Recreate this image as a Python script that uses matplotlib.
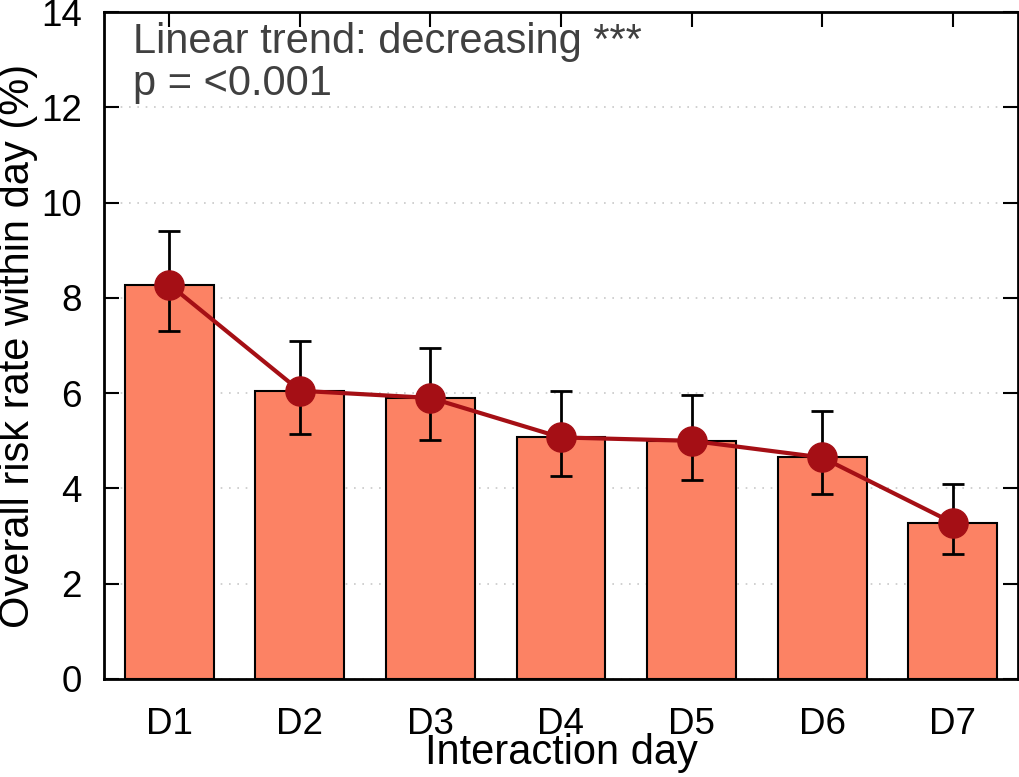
import matplotlib
matplotlib.use("Agg")
import matplotlib.pyplot as plt
import numpy as np

plt.rcParams['font.family'] = ['Liberation Sans', 'DejaVu Sans']

days = ["D1", "D2", "D3", "D4", "D5", "D6", "D7"]
risk_rate = [8.28, 6.05, 5.90, 5.07, 5.00, 4.65, 3.28]
ci_low = [7.30, 5.14, 5.02, 4.26, 4.18, 3.88, 2.62]
ci_high = [9.40, 7.09, 6.95, 6.05, 5.96, 5.62, 4.09]

x = np.arange(len(days))
rate = np.array(risk_rate)
yerr = [rate - np.array(ci_low), np.array(ci_high) - rate]

fig = plt.figure(figsize=(10.2, 7.77), dpi=100)
ax = fig.add_axes([104 / 1020, 98 / 777, 914 / 1020, 667 / 777])

# dotted horizontal grid behind the bars
ax.yaxis.grid(True, linestyle=(0, (1, 4)), color='#c8c8c8', linewidth=1.2)
ax.set_axisbelow(True)

ax.bar(x, rate, width=0.68, color='#fc8264', edgecolor='black', linewidth=1.5, zorder=2)
ax.errorbar(x, rate, yerr=yerr, fmt='none', ecolor='black', elinewidth=2,
            capsize=8, capthick=2, zorder=3)
ax.plot(x, rate, color='#a50f15', linewidth=3, marker='o', markersize=21, zorder=4)

ax.set_xlim(-0.5, 6.5)
ax.set_ylim(0, 14)
ax.set_yticks(np.arange(0, 15, 2))
ax.set_xticks(x)
ax.set_xticklabels(days)

ax.tick_params(axis='both', direction='in', length=11, width=1.5, labelsize=26.5,
               top=True, right=True)
ax.tick_params(axis='x', pad=20)
ax.tick_params(axis='y', pad=16)
for s in ax.spines.values():
    s.set_linewidth(2)

ax.set_xlabel("Interaction day", fontsize=30, labelpad=-6)
ax.set_ylabel("Overall risk rate within day (%)", fontsize=30, labelpad=2)

ax.text(0.032, 0.985, "Linear trend: decreasing ***\np = <0.001", transform=ax.transAxes,
        fontsize=30, color='#404040', va='top', ha='left', linespacing=1.08)

fig.savefig("out.png", dpi=100)
